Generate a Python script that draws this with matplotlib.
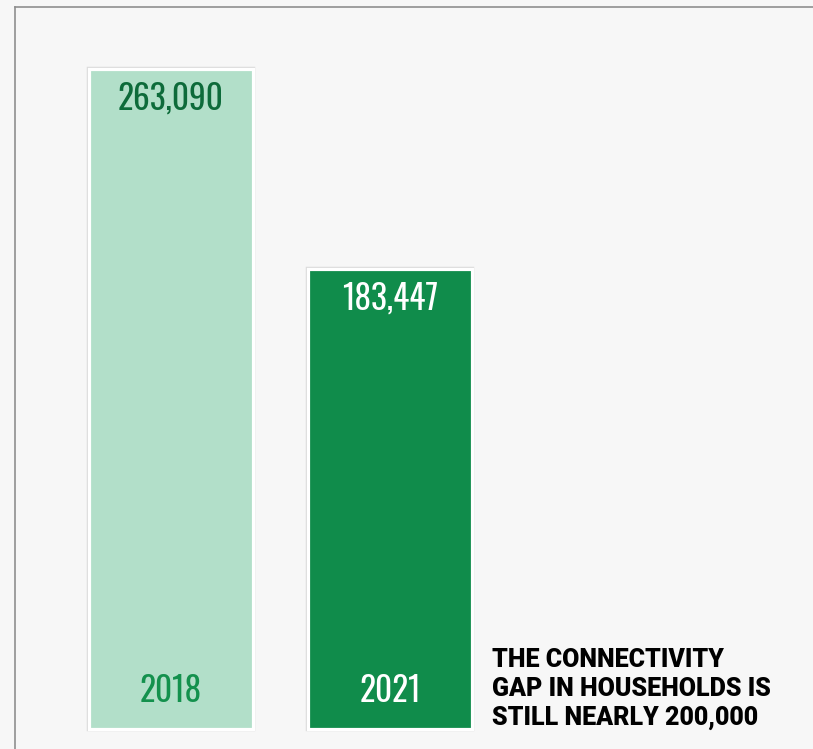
import matplotlib.pyplot as plt
from matplotlib import font_manager

years = ['2018', '2021']
households = [263090, 183447]
value_labels = ['263,090', '183,447']
note_lines = ['THE CONNECTIVITY', 'GAP IN HOUSEHOLDS IS', 'STILL NEARLY 200,000']

bar_colors = ['#b2dfc9', '#108c4b']
value_colors = ['#0d6b3a', '#ffffff']
year_colors = ['#13914d', '#ffffff']

fonts = font_manager.fontManager.ttflist
names = {f.name for f in fonts}

def pick(*fams):
    for f in fams:
        if f in names:
            return f
    return 'DejaVu Sans'

def pick_heavy(*fams):
    # first family that really has an extra-bold / black face
    for fam in fams:
        weights = [int(f.weight) for f in fonts if f.name == fam and f.style == 'normal'
                   and str(f.weight).isdigit()]
        heavy = [w for w in weights if w >= 800]
        if heavy:
            return fam, min(heavy)
    return 'Liberation Sans', 'bold'

num_font = pick('Oswald', 'Roboto Condensed', 'Antonio', 'Sofia Sans Condensed')
note_font, note_weight = pick_heavy('Libre Franklin', 'Archivo', 'Public Sans', 'Roboto',
                                    'Inter', 'Lato', 'Open Sans')

W, H, DPI = 813, 749, 100
fig = plt.figure(figsize=(W / DPI, H / DPI), dpi=DPI)
fig.patch.set_facecolor('#f7f7f7')

# axes spans from the left rule to the right edge, top rule to the bottom
ax = fig.add_axes([15 / W, 0, 1 - 15 / W, 1 - 7 / H])
ax.set_facecolor('#f7f7f7')

px_x = 219.0               # pixels per category step
px_y = 263090 / 660.0      # households per pixel
ax.set_xlim(-(171 - 15) / px_x, (W - 171) / px_x)
ax.set_ylim(-(H - 729) * px_y, (729 - 7) * px_y)

x = list(range(len(years)))
ax.bar(x, households, width=0.75, color=bar_colors, edgecolor='#dcdcdc', linewidth=3.2, zorder=2)
ax.bar(x, households, width=0.75, color=bar_colors, edgecolor='white', linewidth=2.3, zorder=3)

pt = 72.0 / DPI
for i in x:
    ax.annotate(value_labels[i], (i, households[i]), xytext=(0, -41 * pt), textcoords='offset points',
                ha='center', va='baseline', fontsize=24, fontweight='medium', color=value_colors[i],
                family=num_font, zorder=4)
    ax.annotate(years[i], (i, 0), xytext=(0, 27 * pt), textcoords='offset points',
                ha='center', va='baseline', fontsize=24, fontweight='medium', color=year_colors[i],
                family=num_font, zorder=4)

for k, line in enumerate(note_lines):
    fig.text(492 / W, 1 - (667 + 29 * k) / H, line, ha='left', va='baseline',
             fontsize=18, fontweight=note_weight, color='black', family=note_font)

ax.set_xticks([])
ax.set_yticks([])
for side in ['right', 'bottom']:
    ax.spines[side].set_visible(False)
for side in ['top', 'left']:
    ax.spines[side].set_color('#8f8f8f')
    ax.spines[side].set_linewidth(1.2)

fig.savefig('out.png', dpi=DPI, facecolor=fig.get_facecolor())
